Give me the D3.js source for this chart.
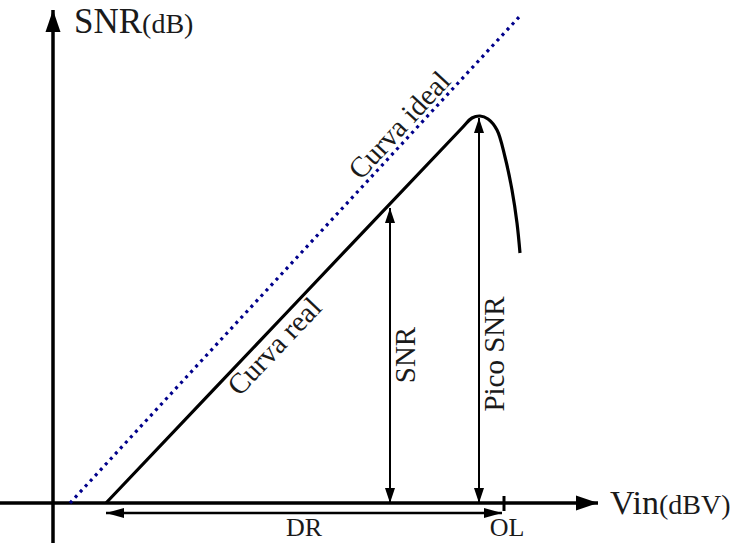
<!DOCTYPE html>
<html>
<head>
<meta charset="utf-8">
<script src="https://cdn.jsdelivr.net/npm/d3@7"></script>
<style>
  body { margin: 0; background: #fff; }
  svg text { font-family: "Liberation Serif", "DejaVu Serif", serif; fill: #1a1a1a; }
</style>
</head>
<body>
<div id="container"></div>
<script>
// schematic units: x = Vin, y = SNR (arbitrary, origin at axes crossing)
var idealX = [3.4, 93.4];
var idealY = [0, 97.4];

var realX = [10.6, 46.2, 81.8, 83.8, 85.4, 87, 88.8, 90.4, 91.8, 92.8, 93.4];
var realY = [0, 37.5, 75, 77, 77.4, 76.8, 74.6, 69.2, 62.6, 56, 50];

var snrX = 67.4, snrTop = 59;
var peakX = 85.2, peakTop = 77;
var drFrom = 10.6, drTo = 89.8, drY = -2;
var olX = 90.2;

var axisLabels = ["SNR", "(dB)", "Vin", "(dBV)"];
var markLabels = ["DR", "OL", "SNR", "Pico SNR", "Curva ideal", "Curva real"];

var width = 735, height = 543;

var x = d3.scaleLinear().domain([0, 100]).range([53, 553]);
var y = d3.scaleLinear().domain([0, 100]).range([503, 3]);

var svg = d3.select("#container").append("svg")
    .attr("width", width)
    .attr("height", height);

var defs = svg.append("defs");

function marker(id, len, half) {
  defs.append("marker")
      .attr("id", id)
      .attr("markerUnits", "userSpaceOnUse")
      .attr("markerWidth", len + 2)
      .attr("markerHeight", half * 2 + 2)
      .attr("viewBox", (-len) + " " + (-half - 1) + " " + (len + 2) + " " + (half * 2 + 2))
      .attr("refX", 0)
      .attr("refY", 0)
      .attr("orient", "auto-start-reverse")
    .append("path")
      .attr("d", "M0,0 L" + (-len) + "," + (-half) + " L" + (-len) + "," + half + " Z")
      .attr("fill", "#000");
}
marker("big", 22, 7.5);
marker("small", 15, 5);
marker("dr", 18, 5);

// axes
svg.append("line")
    .attr("x1", x(-10.6)).attr("y1", y(0))
    .attr("x2", x(109)).attr("y2", y(0))
    .attr("stroke", "#000").attr("stroke-width", 3.5)
    .attr("marker-end", "url(#big)");

svg.append("line")
    .attr("x1", x(0)).attr("y1", y(-8))
    .attr("x2", x(0)).attr("y2", y(98.6))
    .attr("stroke", "#000").attr("stroke-width", 3.5)
    .attr("marker-end", "url(#big)");

// OL tick
svg.append("line")
    .attr("x1", x(olX)).attr("y1", y(0) - 7)
    .attr("x2", x(olX)).attr("y2", y(0) + 8)
    .attr("stroke", "#000").attr("stroke-width", 3);

// ideal curve
var line = d3.line()
    .x(function(d) { return x(d[0]); })
    .y(function(d) { return y(d[1]); });

svg.append("path")
    .datum(d3.zip(idealX, idealY))
    .attr("d", line)
    .attr("fill", "none")
    .attr("stroke", "#00008b")
    .attr("stroke-width", 3.2)
    .attr("stroke-dasharray", "3,4.4");

// real curve
svg.append("path")
    .datum(d3.zip(realX, realY))
    .attr("d", line.curve(d3.curveCatmullRom.alpha(0.5)))
    .attr("fill", "none")
    .attr("stroke", "#000")
    .attr("stroke-width", 3.2);

// SNR / Pico SNR double arrows
[[snrX, snrTop], [peakX, peakTop]].forEach(function(a) {
  svg.append("line")
      .attr("x1", x(a[0])).attr("y1", y(0))
      .attr("x2", x(a[0])).attr("y2", y(a[1]))
      .attr("stroke", "#000").attr("stroke-width", 2)
      .attr("marker-start", "url(#small)")
      .attr("marker-end", "url(#small)");
});

// DR arrow
svg.append("line")
    .attr("x1", x(drFrom)).attr("y1", y(drY))
    .attr("x2", x(drTo)).attr("y2", y(drY))
    .attr("stroke", "#000").attr("stroke-width", 2.6)
    .attr("marker-start", "url(#dr)")
    .attr("marker-end", "url(#dr)");

// axis titles
var t1 = svg.append("text").attr("x", 74).attr("y", 33);
t1.append("tspan").attr("font-size", 35).text(axisLabels[0]);
t1.append("tspan").attr("font-size", 28).text(axisLabels[1]);

var t2 = svg.append("text").attr("x", 610).attr("y", 514);
t2.append("tspan").attr("font-size", 34).text(axisLabels[2]);
t2.append("tspan").attr("font-size", 28).text(axisLabels[3]);

// DR / OL
svg.append("text")
    .attr("x", x((drFrom + drTo) / 2)).attr("y", 536)
    .attr("text-anchor", "middle").attr("font-size", 26)
    .text(markLabels[0]);
svg.append("text")
    .attr("x", x(olX) + 3).attr("y", 536)
    .attr("text-anchor", "middle").attr("font-size", 26)
    .text(markLabels[1]);

// vertical labels
svg.append("text")
    .attr("transform", "translate(" + (x(snrX) + 25) + ",355) rotate(-90)")
    .attr("text-anchor", "middle").attr("font-size", 29)
    .text(markLabels[2]);
svg.append("text")
    .attr("transform", "translate(" + (x(peakX) + 25) + ",354) rotate(-90)")
    .attr("text-anchor", "middle").attr("font-size", 29)
    .text(markLabels[3]);

// slanted labels
var angIdeal = Math.atan2(y(idealY[1]) - y(idealY[0]), x(idealX[1]) - x(idealX[0])) * 180 / Math.PI;
var ix = 71.4, iy = idealY[0] + (ix - idealX[0]) * (idealY[1] - idealY[0]) / (idealX[1] - idealX[0]);
svg.append("text")
    .attr("transform", "translate(" + x(ix) + "," + y(iy) + ") rotate(" + angIdeal + ")")
    .attr("text-anchor", "middle").attr("font-size", 29).attr("dy", -5)
    .text(markLabels[4]);

var angReal = Math.atan2(y(realY[2]) - y(realY[0]), x(realX[2]) - x(realX[0])) * 180 / Math.PI;
var rx = 42.2, ry = (rx - realX[0]) * realY[2] / (realX[2] - realX[0]);
svg.append("text")
    .attr("transform", "translate(" + x(rx) + "," + y(ry) + ") rotate(" + angReal + ")")
    .attr("text-anchor", "middle").attr("font-size", 29).attr("dy", 24)
    .text(markLabels[5]);
</script>
</body>
</html>
